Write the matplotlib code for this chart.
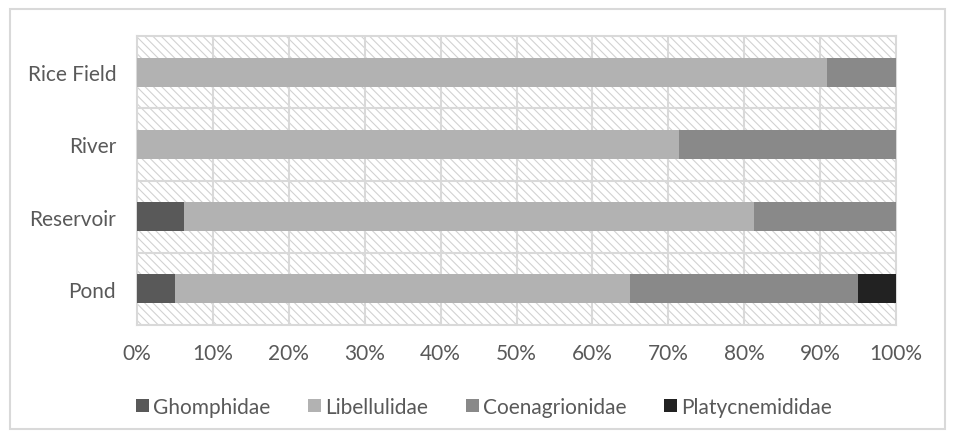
import matplotlib.pyplot as plt
import matplotlib.patches as patches
from matplotlib.ticker import FuncFormatter, MultipleLocator

habitats = ["Pond", "Reservoir", "River", "Rice Field"]
families = ["Ghomphidae", "Libellulidae", "Coenagrionidae", "Platycnemididae"]
colors = ["#595959", "#b2b2b2", "#898989", "#222222"]

# share (%) of each family per habitat, same order as habitats
ghomphidae = [5.0, 6.25, 0.0, 0.0]
libellulidae = [60.0, 75.0, 71.4, 90.9]
coenagrionidae = [30.0, 18.75, 28.6, 9.1]
platycnemididae = [5.0, 0.0, 0.0, 0.0]
series = [ghomphidae, libellulidae, coenagrionidae, platycnemididae]

plt.rcParams['font.family'] = ['Lato', 'DejaVu Sans']
txt = "#595959"
grid = "#d9d9d9"
plt.rcParams['hatch.linewidth'] = 0.8

fig = plt.figure(figsize=(9.55, 4.39), dpi=100)
ax = fig.add_axes([137 / 955, 1 - 326 / 439, 759 / 955, 289 / 439])

# hatched plot background
ax.add_patch(patches.Rectangle((0, 0), 1, 1, transform=ax.transAxes,
                               fc="white", ec="#d2d2d2", lw=0, hatch="\\\\\\\\",
                               zorder=0))

y = range(len(habitats))
left = [0.0] * len(habitats)
for name, vals, col in zip(families, series, colors):
    ax.barh(y, vals, left=left, height=0.4, color=col, label=name, zorder=3)
    left = [a + b for a, b in zip(left, vals)]

ax.set_xlim(0, 100)
ax.set_ylim(-0.5, len(habitats) - 0.5)
ax.xaxis.set_major_locator(MultipleLocator(10))
ax.xaxis.set_major_formatter(FuncFormatter(lambda v, p: f"{v:.0f}%"))
ax.set_yticks(list(y))
ax.set_yticklabels(habitats)

# gridlines: vertical at ticks, horizontal between categories
for v in range(10, 100, 10):
    ax.axvline(v, color=grid, lw=1.5, zorder=1)
for b in [0.5, 1.5, 2.5]:
    ax.axhline(b, color=grid, lw=1.5, zorder=1)

for s in ax.spines.values():
    s.set_color(grid)
    s.set_linewidth(1.5)
ax.tick_params(length=0, labelsize=15, colors=txt)
ax.tick_params(axis="x", pad=13)
ax.tick_params(axis="y", pad=15)

fig.legend(*ax.get_legend_handles_labels(), loc="center",
           bbox_to_anchor=(484 / 955, 1 - 408 / 439), ncol=4, frameon=False,
           fontsize=15, labelcolor=txt, handlelength=0.63, handleheight=0.63,
           handletextpad=0.2, columnspacing=1.8, borderpad=0)

# outer chart border
fig.add_artist(patches.Rectangle((10 / 955, 9 / 439), 935 / 955, 420 / 439,
                                 transform=fig.transFigure, fill=False,
                                 ec=grid, lw=1.5))

fig.savefig("out.png", dpi=100)
